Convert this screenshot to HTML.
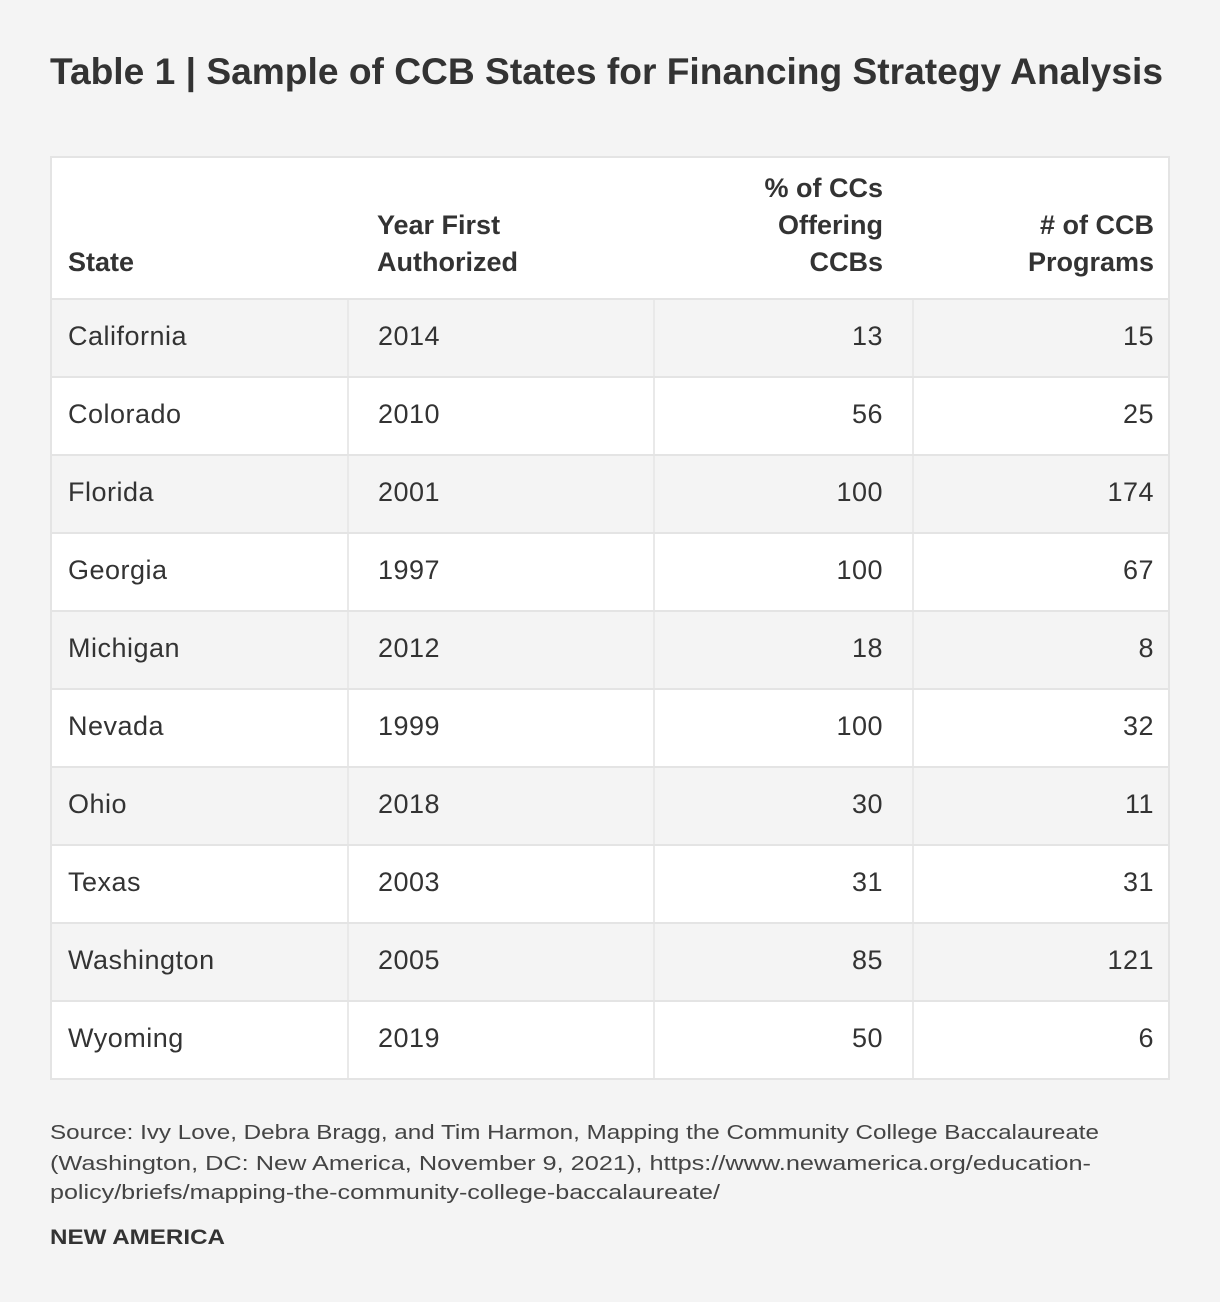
<!DOCTYPE html>
<html><head><meta charset="utf-8">
<style>
body{margin:0;width:1220px;height:1302px;background:#f4f4f4;font-family:"Liberation Sans",sans-serif;color:#333;position:relative;overflow:hidden}
.abs{position:absolute;white-space:nowrap}
#title{left:50px;top:51px;font-size:37px;font-weight:bold;color:#333;transform-origin:left top}
#tbl{left:50px;top:156px;width:1116px;height:920px;border:2px solid #e4e4e4;background:#fff}
.row{position:absolute;left:0;width:1116px;height:76px;border-top:2px solid #e4e4e4}
.vl{position:absolute;width:2px;background:#e9e9e9}
.cell{position:absolute;top:-2px;font-size:27px;letter-spacing:0.5px;line-height:76px;color:#333}
.hd{position:absolute;font-size:27px;font-weight:bold;line-height:37px;color:#333}
.src{left:50px;font-size:20px;color:#444;transform-origin:left top}
</style></head><body>
<div id="title" class="abs">Table 1 | Sample of CCB States for Financing Strategy Analysis</div>
<div id="tbl" class="abs">
  <div class="hd" style="left:16px;top:86px">State</div>
  <div class="hd" style="left:325px;top:49px">Year First<br>Authorized</div>
  <div class="hd" style="right:285px;top:12px;text-align:right">% of CCs<br>Offering<br>CCBs</div>
  <div class="hd" style="right:14px;top:49px;text-align:right"># of CCB<br>Programs</div>
</div>
<div class="abs src" style="top:1122px" data-w="1049">Source: Ivy Love, Debra Bragg, and Tim Harmon, Mapping the Community College Baccalaureate</div>
<div class="abs src" style="top:1153px" data-w="1041">(Washington, DC: New America, November 9, 2021), https://www.newamerica.org/education-</div>
<div class="abs src" style="top:1182px" data-w="670">policy/briefs/mapping-the-community-college-baccalaureate/</div>
<div id="brand" class="abs" style="left:50px;top:1226px;font-size:21px;font-weight:bold;color:#333;transform-origin:left top">NEW AMERICA</div>
<script>
const states=["California","Colorado","Florida","Georgia","Michigan","Nevada","Ohio","Texas","Washington","Wyoming"];
const years=["2014","2010","2001","1997","2012","1999","2018","2003","2005","2019"];
const pct=["13","56","100","100","18","100","30","31","85","50"];
const progs=["15","25","174","67","8","32","11","31","121","6"];
const tbl=document.getElementById('tbl');
states.forEach((s,i)=>{
  const r=document.createElement('div');
  r.className='row';
  
  
  r.style.top=(140+i*78)+'px';
  r.style.background=i%2===0?'#f4f4f4':'#fff';
  [295,601,860].forEach(x=>{const v=document.createElement('div');v.className='vl';v.style.left=x+'px';v.style.top='0';v.style.height='76px';r.appendChild(v);});
  const c1=document.createElement('div');c1.className='cell';c1.style.left='16px';c1.textContent=s;
  
  
  const c2=document.createElement('div');c2.className='cell';c2.style.left='326px';c2.textContent=years[i];
  
  
  const c3=document.createElement('div');c3.className='cell';c3.style.right='285px';c3.textContent=pct[i];
  
  
  const c4=document.createElement('div');c4.className='cell';c4.style.right='14px';c4.textContent=progs[i];
  
  
  r.append(c1,c2,c3,c4);
  tbl.appendChild(r);
});
function fit(el,w){const cw=el.getBoundingClientRect().width;el.style.transform='scaleX('+(w/cw)+')';}
fit(document.getElementById('title'),1113);
fit(document.getElementById('brand'),175);
document.querySelectorAll('.src').forEach(e=>fit(e,+e.dataset.w));
</script>
</body></html>
